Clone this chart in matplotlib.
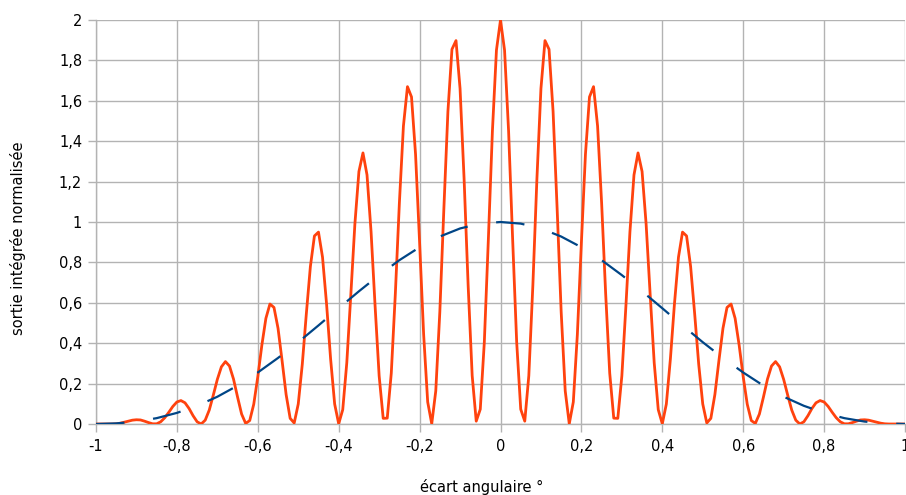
import matplotlib
matplotlib.use("Agg")
import matplotlib.pyplot as plt
import numpy as np
from matplotlib.ticker import FuncFormatter

plt.rcParams["font.family"] = ["DejaVu Sans"]
plt.rcParams["lines.scale_dashes"] = False

# Integrated output, sampled every 0.01 degree from -1 to 1
angle_fine = np.linspace(-1.0, 1.0, 201)
signal = [
    0.000, 0.000, 0.000, 0.000, 0.000, 0.001, 0.004, 0.009, 0.014, 0.019,
    0.021, 0.020, 0.014, 0.007, 0.001, 0.001, 0.011, 0.031, 0.058, 0.087,
    0.109, 0.116, 0.105, 0.077, 0.041, 0.011, 0.000, 0.019, 0.069, 0.143,
    0.221, 0.283, 0.309, 0.287, 0.222, 0.133, 0.049, 0.003, 0.017, 0.098,
    0.234, 0.390, 0.523, 0.594, 0.577, 0.474, 0.314, 0.146, 0.028, 0.005,
    0.099, 0.296, 0.546, 0.780, 0.931, 0.950, 0.826, 0.594, 0.322, 0.099,
    0.001, 0.071, 0.303, 0.641, 0.990, 1.250, 1.342, 1.233, 0.952, 0.583,
    0.238, 0.028, 0.029, 0.252, 0.644, 1.094, 1.475, 1.670, 1.619, 1.335,
    0.899, 0.443, 0.109, 0.001, 0.164, 0.555, 1.066, 1.547, 1.855, 1.898,
    1.661, 1.213, 0.686, 0.239, 0.014, 0.073, 0.405, 0.915, 1.450, 1.851,
    2.000,
    1.851, 1.450, 0.915, 0.405, 0.073, 0.014, 0.239, 0.686, 1.213, 1.661,
    1.898, 1.855, 1.547, 1.066, 0.555, 0.164, 0.001, 0.109, 0.443, 0.899,
    1.335, 1.619, 1.670, 1.475, 1.094, 0.644, 0.252, 0.029, 0.028, 0.238,
    0.583, 0.952, 1.233, 1.342, 1.250, 0.990, 0.641, 0.303, 0.071, 0.001,
    0.099, 0.322, 0.594, 0.826, 0.950, 0.931, 0.780, 0.546, 0.296, 0.099,
    0.005, 0.028, 0.146, 0.314, 0.474, 0.577, 0.594, 0.523, 0.390, 0.234,
    0.098, 0.017, 0.003, 0.049, 0.133, 0.222, 0.287, 0.309, 0.283, 0.221,
    0.143, 0.069, 0.019, 0.000, 0.011, 0.041, 0.077, 0.105, 0.116, 0.109,
    0.087, 0.058, 0.031, 0.011, 0.001, 0.001, 0.007, 0.014, 0.020, 0.021,
    0.019, 0.014, 0.009, 0.004, 0.001, 0.000, 0.000, 0.000, 0.000, 0.000,
]

# Single-aperture envelope, sampled every 0.05 degree
angle_env = np.linspace(-1.0, 1.0, 41)
envelope = [
    0.000, 0.003, 0.012, 0.029, 0.055, 0.090, 0.135, 0.190, 0.255, 0.327,
    0.405, 0.488, 0.573, 0.657, 0.737, 0.811, 0.875, 0.928, 0.968, 0.992,
    1.000,
    0.992, 0.968, 0.928, 0.875, 0.811, 0.737, 0.657, 0.573, 0.488, 0.405,
    0.327, 0.255, 0.190, 0.135, 0.090, 0.055, 0.029, 0.012, 0.003, 0.000,
]

x_ticks = [-1.0, -0.8, -0.6, -0.4, -0.2, 0.0, 0.2, 0.4, 0.6, 0.8, 1.0]
y_ticks = [0.0, 0.2, 0.4, 0.6, 0.8, 1.0, 1.2, 1.4, 1.6, 1.8, 2.0]
x_title = "écart angulaire °"
y_title = "sortie intégrée normalisée"

GRID = "#b3b3b3"

fig = plt.figure(figsize=(9.06, 4.95), dpi=100)
W, H = 906, 495
ax = fig.add_axes([96 / W, 1 - 424 / H, (905 - 96) / W, (424 - 20) / H])

ax.plot(angle_fine, signal, color="#ff420e", lw=2.0, zorder=3)
ax.plot(angle_env, envelope, color="#004586", lw=1.6, dashes=(20.5, 20.8),
        dash_capstyle="butt", zorder=4)

ax.set_xlim(-1, 1)
ax.set_ylim(0, 2)
ax.set_xticks(x_ticks)
ax.set_yticks(y_ticks)


def fr_number(v, _pos=None):
    s = "%g" % round(v, 2)
    if s == "-0":
        s = "0"
    return s.replace(".", ",")


ax.xaxis.set_major_formatter(FuncFormatter(fr_number))
ax.yaxis.set_major_formatter(FuncFormatter(fr_number))

ax.grid(True, color=GRID, lw=1.0, zorder=0)
ax.set_axisbelow(True)
for side in ("top", "right"):
    ax.spines[side].set_visible(False)
for side in ("left", "bottom"):
    ax.spines[side].set_color(GRID)
    ax.spines[side].set_linewidth(1.0)

ax.tick_params(axis="both", which="major", length=6, width=1.0, color=GRID,
               labelsize=10.5, labelcolor="#000000")
ax.tick_params(axis="x", pad=5)
ax.tick_params(axis="y", pad=4)

fig.text(482 / W, 1 - 487 / H, x_title, ha="center", va="center", fontsize=10.5)
fig.text(18 / W, 1 - 238 / H, y_title, ha="center", va="center",
         rotation=90, fontsize=10.5)

fig.savefig("out.png", dpi=100)
